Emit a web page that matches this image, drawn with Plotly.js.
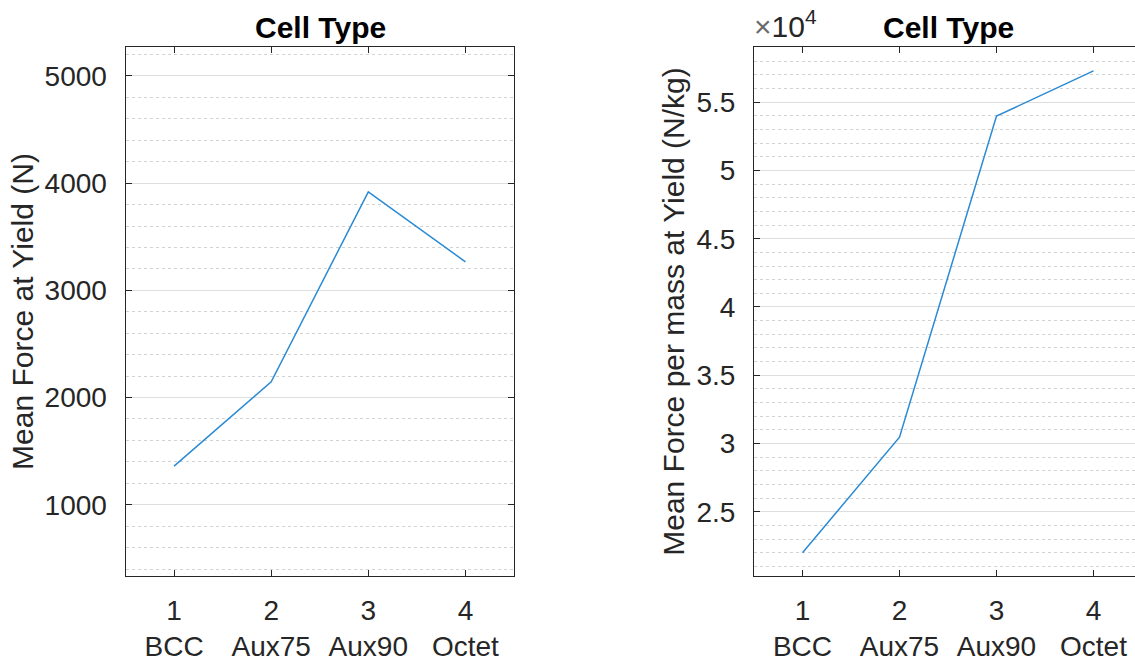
<!DOCTYPE html>
<html>
<head>
<meta charset="utf-8">
<script src="https://cdn.plot.ly/plotly-3.0.1.min.js"></script>
<style>
html,body{margin:0;padding:0;overflow:hidden;background:#fff;}
#chart{width:1145px;height:662px;}
</style>
</head>
<body>
<div id="chart"></div>
<script>
// ---- data ----
const cellIndex = [1, 2, 3, 4];
const cellTypes = ['BCC', 'Aux75', 'Aux90', 'Octet'];
const meanForce = [1360, 2146, 3919, 3266];            // N
const meanForcePerMass = [22000, 30470, 53980, 57290];  // N/kg
const forceTicks = [1000, 2000, 3000, 4000, 5000];
const specTicks = [25000, 30000, 35000, 40000, 45000, 50000, 55000];
const specTickLabels = ['2.5', '3', '3.5', '4', '4.5', '5', '5.5'];

const xTickText = cellIndex.map((v, i) => v + '<br>' + cellTypes[i]);

const FONT = 'Liberation Sans, Arial, Helvetica, sans-serif';
const TXT = '#262626';
const W = 1145, H = 662;
const px = v => v / W;
const py = v => 1 - v / H;

const lineStyle = {color: '#2a8ad3', width: 1.5};

const traces = [
  {x: cellIndex, y: meanForce, type: 'scatter', mode: 'lines', line: lineStyle, xaxis: 'x', yaxis: 'y', showlegend: false, hoverinfo: 'x+y'},
  {x: cellIndex, y: meanForcePerMass, type: 'scatter', mode: 'lines', line: lineStyle, xaxis: 'x2', yaxis: 'y2', showlegend: false, hoverinfo: 'x+y'}
];

function xAxis(domain, anchor) {
  return {
    domain: domain, anchor: anchor, range: [0.5, 4.5],
    tickmode: 'array', tickvals: cellIndex, ticktext: xTickText,
    ticks: 'inside', ticklen: 6, tickwidth: 1, tickcolor: TXT,
    showline: true, linecolor: TXT, linewidth: 1, mirror: 'ticks',
    showgrid: false, zeroline: false,
    tickfont: {family: FONT, size: 28, color: TXT},
    ticklabelstandoff: 9
  };
}
function yAxis(domain, anchor, range, tickvals, ticktext, minorDtick, title) {
  return {
    domain: domain, anchor: anchor, range: range,
    tickmode: 'array', tickvals: tickvals, ticktext: ticktext,
    ticks: 'inside', ticklen: 6, tickwidth: 1, tickcolor: TXT,
    showline: true, linecolor: TXT, linewidth: 1, mirror: 'ticks',
    showgrid: true, gridcolor: '#dedede', gridwidth: 1,
    zeroline: false,
    minor: {dtick: minorDtick, tick0: 0, showgrid: true, gridcolor: '#d2d2d2', griddash: 'dot', gridwidth: 1, ticks: ''},
    tickfont: {family: FONT, size: 28, color: TXT},
    ticklabelstandoff: 12,
    title: {text: title, font: {family: FONT, size: 30, color: TXT}, standoff: 2}
  };
}

const layout = {
  width: W, height: H,
  margin: {l: 0, r: 0, t: 0, b: 0},
  paper_bgcolor: '#ffffff', plot_bgcolor: '#ffffff',
  xaxis: xAxis([px(125.5), px(514)], 'y'),
  yaxis: yAxis([py(576), py(47)], 'x', [335, 5270], forceTicks, forceTicks.map(String), 200, 'Mean Force at Yield (N)'),
  xaxis2: xAxis([px(754), px(1142)], 'y2'),
  yaxis2: yAxis([py(576), py(47)], 'x2', [20300, 59040], specTicks, specTickLabels, 1000, 'Mean Force per mass at Yield (N/kg)'),
  annotations: [
    {text: '<b>Cell Type</b>', xref: 'paper', yref: 'paper', x: px(320), y: py(27), xanchor: 'center', yanchor: 'middle', showarrow: false, font: {family: FONT, size: 30, color: '#000'}},
    {text: '<b>Cell Type</b>', xref: 'paper', yref: 'paper', x: px(948), y: py(27), xanchor: 'center', yanchor: 'middle', showarrow: false, font: {family: FONT, size: 30, color: '#000'}},
    {text: '<span style="color:#6a6a6a">×</span>10<sup>4</sup>', xref: 'paper', yref: 'paper', x: px(752), y: py(45), xanchor: 'left', yanchor: 'bottom', showarrow: false, font: {family: FONT, size: 30, color: TXT}}
  ]
};

Plotly.newPlot('chart', traces, layout, {displayModeBar: false, staticPlot: true});
</script>
</body>
</html>
